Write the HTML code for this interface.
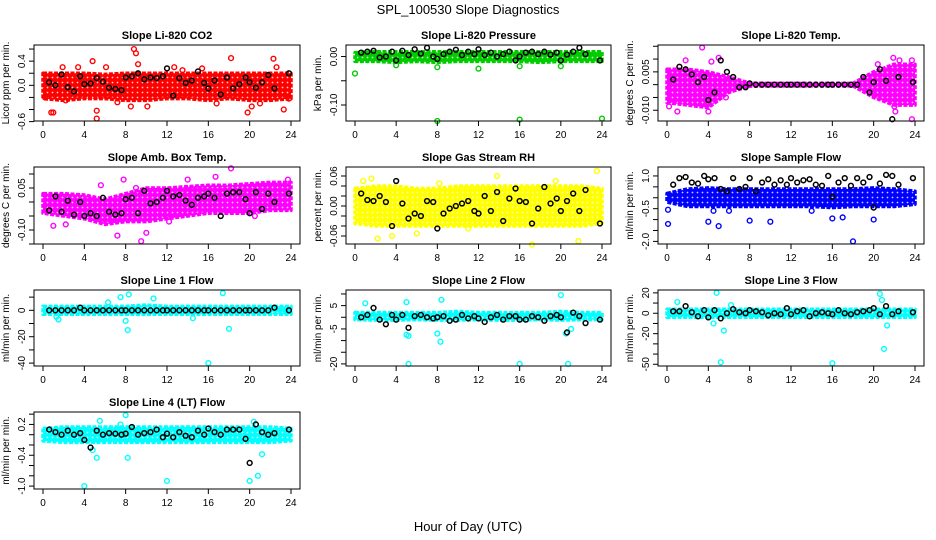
<!DOCTYPE html>
<html><head><meta charset="utf-8">
<style>
html,body{margin:0;padding:0;background:#fff;}
svg{display:block;font-family:"Liberation Sans",Arial,sans-serif;}
</style></head>
<body>
<svg id="chart" width="936" height="540" viewBox="0 0 936 540">
<defs id="defs"></defs>
<text x="468" y="14" text-anchor="middle" font-size="13">SPL_100530  Slope Diagnostics</text>
<text x="468" y="531" text-anchor="middle" font-size="13">Hour of Day (UTC)</text>
</svg>
<script>
// shared x data
const bandHours = [0,2,4,6,8,10,12,14,16,18,20,22,24];
const blackHours = [0.6,1.2,1.8,2.4,3.0,3.6,4.0,4.6,5.2,5.8,6.4,7.0,7.6,8.0,8.6,9.2,9.8,10.4,11.0,11.6,12.0,12.6,13.2,13.8,14.4,15.0,15.6,16.0,16.6,17.2,17.8,18.4,19.0,19.6,20.0,20.6,21.2,21.8,22.4,23.8];
const xTicks = [0,4,8,12,16,20,24];

// CO2
const co2Hi = [0.2,0.2,0.2,0.18,0.2,0.2,0.2,0.2,0.2,0.2,0.2,0.2,0.2];
const co2Lo = [-0.22,-0.25,-0.22,-0.22,-0.25,-0.25,-0.22,-0.22,-0.25,-0.22,-0.25,-0.25,-0.22];
const co2OutX = [0.2,1.0,0.8,4.8,5.2,5.2,8.8,9.0,9.2,18.2,22.3,19.8,23.3,2.2,7.2,8.5,10.1,12.7,16.8,20.2,21.0,6.1,3.4,1.9,13.5,15.4,22.6,23.8];
const co2OutY = [-0.2,-0.45,-0.45,0.4,-0.42,-0.55,0.6,0.53,0.35,0.45,0.44,-0.45,-0.4,-0.25,-0.28,-0.35,-0.35,0.3,-0.3,-0.35,-0.3,0.3,0.3,0.3,0.25,0.28,0.3,-0.22];
const co2Black = [0.05,0.0,0.18,-0.03,-0.1,0.15,0.02,0.03,0.12,0.06,-0.04,-0.06,-0.08,0.13,0.15,0.2,0.1,0.13,0.12,0.15,0.28,-0.17,0.12,0.04,0.08,0.23,0.04,-0.05,0.08,-0.15,0.13,-0.05,0.02,0.13,0.05,-0.04,0.05,0.17,-0.05,0.2];
// Pressure
const presHi = [0.008,0.01,0.01,0.01,0.01,0.01,0.01,0.01,0.01,0.01,0.01,0.01,0.01];
const presLo = [-0.01,-0.01,-0.012,-0.01,-0.012,-0.01,-0.01,-0.01,-0.01,-0.012,-0.01,-0.01,-0.01];
const presOutX = [0,4,8,8,12,16,16,20,24];
const presOutY = [-0.035,-0.018,-0.022,-0.133,-0.025,-0.13,-0.02,-0.02,-0.128];
const presBlack = [0.008,0.01,0.012,-0.002,0.0,0.01,-0.008,0.012,0.003,0.015,0.006,0.018,0.0,-0.005,0.005,0.01,0.014,0.003,0.01,0.005,0.015,0.003,0.008,0.0,0.005,0.01,-0.008,0.0,0.008,0.01,0.005,0.01,0.004,0.008,-0.008,0.004,0.01,0.018,0.005,-0.008];
// Li-820 Temp
const tempHi = [0.006,0.006,0.005,0.003,0.0006,0.0005,0.0005,0.0005,0.0005,0.0005,0.005,0.008,0.008];
const tempLo = [-0.007,-0.008,-0.009,-0.003,-0.0006,-0.0005,-0.0005,-0.0005,-0.0005,-0.0005,-0.005,-0.008,-0.008];
const tempOutX = [3.4,0.2,1.0,4.0,5.0,4.3,1.8,21.9,22.5,23.7,23.7,22.0,22.1,20.4,23.8,5.7];
const tempOutY = [0.0145,-0.0085,-0.0105,-0.0105,0.0105,0.009,0.0095,0.0105,0.0095,0.0095,-0.0135,-0.0085,-0.0105,0.008,0.007,-0.005];
const tempBlack = [0.002,0.007,0.006,0.004,0.001,0.003,-0.006,-0.003,0.0095,0.005,0.003,-0.001,-0.001,0.0005,0,0,0,0,0,0,0,0,0,0,0,0,0,0,0,0,0,0,0.003,-0.003,0.001,0.006,0.0015,-0.0135,0.003,0.001];
// Amb box temp
const ambHi = [0.03,0.03,0.025,0.01,0.03,0.05,0.05,0.055,0.06,0.06,0.065,0.07,0.07];
const ambLo = [-0.04,-0.05,-0.06,-0.08,-0.07,-0.07,-0.06,-0.05,-0.04,-0.04,-0.04,-0.03,-0.03];
const ambOutX = [1.0,5.6,9.0,10.0,7.2,9.5,12.2,14.0,16.7,18.2,23.7,2.2,20.5,7.8];
const ambOutY = [-0.085,0.06,0.05,-0.11,-0.12,-0.14,-0.07,0.08,0.09,0.12,0.08,-0.08,-0.05,0.08];
const ambBlack = [-0.03,0.02,-0.035,0.005,-0.045,0.0,-0.05,-0.04,-0.05,0.015,-0.035,-0.045,-0.04,0.01,0.015,-0.04,0.04,-0.005,0.0,0.015,0.04,0.02,0.025,0.005,-0.01,0.015,0.02,0.03,0.015,-0.05,0.03,0.035,0.035,0.01,-0.04,0.035,-0.025,0.03,0.0,0.03];
// Gas RH
const rhHi = [0.035,0.04,0.04,0.035,0.035,0.04,0.04,0.04,0.04,0.04,0.04,0.04,0.035];
const rhLo = [-0.035,-0.04,-0.04,-0.04,-0.04,-0.04,-0.04,-0.04,-0.04,-0.04,-0.04,-0.04,-0.035];
const rhOutX = [17.2,2.2,23.5,13.8,21.7,11.0,0.8,1.6,8.2,19.5,6.0,3.6];
const rhOutY = [-0.077,-0.065,0.07,0.06,-0.07,-0.045,0.05,0.055,0.045,0.05,-0.055,-0.06];
const rhBlack = [0.025,0.012,0.01,0.02,0.008,-0.04,0.05,0.005,-0.025,-0.015,-0.02,0.01,0.008,-0.045,-0.015,-0.005,0.0,0.005,0.01,-0.01,-0.015,0.02,-0.01,0.028,-0.03,0.015,0.035,0.01,0.008,-0.035,-0.005,0.038,0.005,0.015,-0.01,0.01,0.025,-0.01,0.032,-0.035];
// Sample flow
const sfHi = [0.2,0.4,0.45,0.4,0.4,0.4,0.4,0.4,0.4,0.4,0.45,0.4,0.3];
const sfLo = [-0.2,-0.4,-0.4,-0.4,-0.4,-0.4,-0.4,-0.4,-0.45,-0.4,-0.4,-0.4,-0.3];
const sfOutX = [0.1,0.1,5.0,4.0,10.0,8.0,18.0,17.0,16.0,20.0,4.5,6.0,14.0];
const sfOutY = [-1.2,-0.55,-1.3,-1.1,-1.1,-1.05,-2.0,-0.9,-0.95,-1.0,-0.6,-0.6,-0.6];
const sfBlack = [0.6,0.9,0.95,0.7,0.65,1.0,0.85,0.9,0.4,0.3,0.9,0.4,0.5,0.9,0.3,0.7,0.85,0.6,0.8,0.6,0.9,0.7,0.8,0.85,0.6,0.55,1.0,0.05,0.7,0.9,0.55,0.9,0.7,0.95,-0.45,0.65,1.05,1.0,0.6,0.9];
// Line 1
const l1Hi = [3,3,3,3,3,4,3,3,3,3,3,3,3];
const l1Lo = [-3,-3,-3,-3,-3,-3,-3,-3,-3,-3,-3,-3,-3];
const l1OutX = [16,8.2,18,8,1.5,14.5,7.5,8.3,17.4,10.7,6.3,1.3];
const l1OutY = [-40,-15,-14,-8,-7,-6,10,12,13,9,6,-5];
const l1Black = [0,0,0,0,0,2,0,0,0,0,0,0,0,0,0,0,0,0,0,0,0,0,0,0,0,0,0,0,0,0,0,0,0,0,0,0,0,0,2,0];
// Line 2
const l2Hi = [2,2,2,2,2,2.5,2,2,2,2,2.5,2,2];
const l2Lo = [-1,-1.2,-1.2,-1,-1.2,-1.2,-1,-1.2,-1.2,-1,-1.2,-1,-1];
const l2OutX = [5.2,8.3,8.0,5.0,5.2,1.0,5.0,8.4,16.0,20.5,20.7,21.0,20.0];
const l2OutY = [-20,-10.5,-7,-7.5,-8,6,6.5,7.5,-20,-7,-20,-5,9.5];
const l2Black = [0,1,4,-1,-3,1,-1,1,-4.5,0.5,1,0,-0.5,0,0.5,-1.5,-1,1,-0.5,0.5,-0.5,-2,0,1,-1,0.5,0.5,-1,-1,0.5,0,-1.5,0.5,1,0,-6.5,2,0.5,-2.5,-1];
// Line 3
const l3Hi = [4,4,4,4,4,4,4,4,4,4,4,4,4];
const l3Lo = [-4,-4,-4,-4,-4,-4,-4,-4,-4,-4,-4,-4,-4];
const l3OutX = [4.8,5.2,5.5,4.5,1.0,16.0,20.6,21.0,20.8,21.3,6.2];
const l3OutY = [20,-48,-17,-10,11,-49,19,-35,13,-12,8];
const l3Black = [2,2,7,1,-3,3,-4,3,-5,0,4,1,0,3,2,1,-2,0,-1,5,-1,2,3,-3,0,1,0,-1,3,0,-1,1,2,3,5,-1,7,-1,2,1];
// Line 4
const l4Hi = [0.12,0.15,0.15,0.15,0.15,0.15,0.15,0.15,0.15,0.15,0.15,0.15,0.12];
const l4Lo = [-0.12,-0.15,-0.15,-0.15,-0.15,-0.15,-0.15,-0.15,-0.15,-0.15,-0.15,-0.15,-0.12];
const l4OutX = [4.0,12.0,20.0,20.8,8.0,5.5,7.5,8.2,5.2,4.8,21.2,20.4];
const l4OutY = [-1.0,-0.9,-0.9,-0.8,0.38,0.27,0.2,-0.45,-0.45,-0.3,-0.38,0.25];
const l4Black = [0.1,0.05,0.0,0.08,0.0,0.03,-0.1,-0.25,0.08,0.0,0.03,0.02,0.0,0.02,0.15,0.0,0.03,0.05,0.1,-0.05,0.02,-0.05,0.05,-0.02,-0.05,0.08,0.0,0.12,0.05,0.0,0.1,0.1,0.1,-0.08,-0.55,0.2,0.05,0.0,0.03,0.1];

const NS = "http://www.w3.org/2000/svg";
const svg = document.getElementById('chart');
const defs = document.getElementById('defs');
const cols = [[34,300],[346,611],[658,924]];
const rows = [[45,121],[167,244],[290,366],[412,489]];

const panels = [
 {key:'co2',title:'Slope Li-820 CO2',ylab:'Licor ppm per min.',c:0,r:0,col:'#ff0000',ymin:-0.59,ymax:0.667,ticks:[-0.6,-0.4,-0.2,0,0.2,0.4,0.6],labels:[[-0.6,'-0.6'],[0,'0.0'],[0.4,'0.4']],hi:co2Hi,lo:co2Lo,ox:co2OutX,oy:co2OutY,b:co2Black},
 {key:'pressure',title:'Slope Li-820 Pressure',ylab:'kPa per min.',c:1,r:0,col:'#00cc00',ymin:-0.133,ymax:0.0238,ticks:[-0.1,-0.05,0],labels:[[-0.1,'-0.10'],[0,'0.00']],hi:presHi,lo:presLo,ox:presOutX,oy:presOutY,b:presBlack},
 {key:'li820-temp',title:'Slope Li-820 Temp.',ylab:'degrees C per min.',c:2,r:0,col:'#ff00ff',ymin:-0.0142,ymax:0.0155,ticks:[-0.01,-0.005,0,0.005,0.01,0.015],labels:[[-0.01,'-0.010'],[0.005,'0.005']],hi:tempHi,lo:tempLo,ox:tempOutX,oy:tempOutY,b:tempBlack},
 {key:'amb-box-temp',title:'Slope Amb. Box Temp.',ylab:'degrees C per min.',c:0,r:1,col:'#ff00ff',ymin:-0.15,ymax:0.125,ticks:[-0.15,-0.1,-0.05,0,0.05,0.1],labels:[[-0.1,'-0.10'],[0.05,'0.05']],hi:ambHi,lo:ambLo,ox:ambOutX,oy:ambOutY,b:ambBlack},
 {key:'gas-rh',title:'Slope Gas Stream RH',ylab:'percent per min.',c:1,r:1,col:'#ffff00',ymin:-0.076,ymax:0.078,ticks:[-0.06,-0.04,-0.02,0,0.02,0.04,0.06],labels:[[-0.06,'-0.06'],[0,'0.00'],[0.06,'0.06']],hi:rhHi,lo:rhLo,ox:rhOutX,oy:rhOutY,b:rhBlack},
 {key:'sample-flow',title:'Slope Sample Flow',ylab:'ml/min per min.',c:2,r:1,col:'#0000ff',ymin:-2.12,ymax:1.41,ticks:[-2,-1.5,-1,-0.5,0,0.5,1],labels:[[-2,'-2.0'],[-0.5,'-0.5'],[1,'1.0']],hi:sfHi,lo:sfLo,ox:sfOutX,oy:sfOutY,b:sfBlack},
 {key:'line1-flow',title:'Slope Line 1 Flow',ylab:'ml/min per min.',c:0,r:2,col:'#00ffff',ymin:-42.2,ymax:15.4,ticks:[-40,-30,-20,-10,0,10],labels:[[-40,'-40'],[-20,'-20'],[0,'0']],hi:l1Hi,lo:l1Lo,ox:l1OutX,oy:l1OutY,b:l1Black},
 {key:'line2-flow',title:'Slope Line 2 Flow',ylab:'ml/min per min.',c:1,r:2,col:'#00ffff',ymin:-20.9,ymax:11.7,ticks:[-20,-15,-10,-5,0,5,10],labels:[[-20,'-20'],[-5,'-5'],[5,'5']],hi:l2Hi,lo:l2Lo,ox:l2OutX,oy:l2OutY,b:l2Black},
 {key:'line3-flow',title:'Slope Line 3 Flow',ylab:'ml/min per min.',c:2,r:2,col:'#00ffff',ymin:-51.7,ymax:22.8,ticks:[-50,-40,-30,-20,-10,0,10,20],labels:[[-50,'-50'],[-20,'-20'],[0,'0'],[20,'20']],hi:l3Hi,lo:l3Lo,ox:l3OutX,oy:l3OutY,b:l3Black},
 {key:'line4-flow',title:'Slope Line 4 (LT) Flow',ylab:'ml/min per min.',c:0,r:3,col:'#00ffff',ymin:-1.057,ymax:0.442,ticks:[-1,-0.8,-0.6,-0.4,-0.2,0,0.2,0.4],labels:[[-1,'-1.0'],[-0.4,'-0.4'],[0.2,'0.2']],hi:l4Hi,lo:l4Lo,ox:l4OutX,oy:l4OutY,b:l4Black}
];

function el(tag, attrs, parent){
  const e = document.createElementNS(NS, tag);
  for (const k in attrs) e.setAttribute(k, attrs[k]);
  (parent||svg).appendChild(e);
  return e;
}

panels.forEach(p => {
  const [x0,x1] = cols[p.c], [y0,y1] = rows[p.r];
  const dx0 = x0 + 9, dx1 = x1 - 9;
  const xs = v => dx0 + (v/24)*(dx1-dx0);
  const ys = v => y1 - (v - p.ymin)/(p.ymax - p.ymin)*(y1-y0);
  // texture pattern for dense cloud
  const pid = 'pat-' + p.key;
  const pat = el('pattern', {id:pid, width:'5', height:'5', patternUnits:'userSpaceOnUse'}, defs);
  el('rect', {x:0, y:0, width:5, height:5, fill:p.col}, pat);
  el('circle', {cx:2.5, cy:2.5, r:0.9, fill:'#ffffff', 'fill-opacity':'0.8'}, pat);

  const g = el('g', {});
  
  
  const t = el('text', {x:(x0+x1)/2, y:y0-6, 'text-anchor':'middle','font-size':'11','font-weight':'bold'}, g);
  t.textContent = p.title;
  
  
  const cx = x0 - 25, cy = (y0+y1)/2;
  const yl = el('text', {x:cx, y:cy, 'text-anchor':'middle','font-size':'10',transform:`rotate(-90 ${cx} ${cy})`}, g);
  yl.textContent = p.ylab;
  
  
  let d = '';
  bandHours.forEach((h,i)=>{ d += (i?'L':'M') + xs(h).toFixed(1)+','+ys(p.hi[i]).toFixed(1); });
  for (let i=bandHours.length-1;i>=0;i--) d += 'L'+xs(bandHours[i]).toFixed(1)+','+ys(p.lo[i]).toFixed(1);
  const band = el('path', {d:d+'Z', fill:`url(#${pid})`, stroke:p.col, 'stroke-width':'3.5','stroke-linejoin':'round','stroke-dasharray':'4 1.5'}, g);
  
  
  p.ox.forEach((h,i)=>{
    const c = el('circle', {cx:xs(h), cy:ys(p.oy[i]), r:'2.4', fill:'none', stroke:p.col, 'stroke-width':'1.4'}, g);
    
    
  });
  blackHours.forEach((h,i)=>{
    const c = el('circle', {cx:xs(h), cy:ys(p.b[i]), r:'2.4', fill:'none', stroke:'#000', 'stroke-width':'1.5'}, g);
    
    
  });
  const box = el('rect', {x:x0, y:y0, width:x1-x0, height:y1-y0, fill:'none', stroke:'#000','stroke-width':'1'}, g);
  
  
  el('line', {x1:xs(0), x2:xs(24), y1:y1, y2:y1, stroke:'#000'}, g);
  xTicks.forEach(v=>{
    el('line', {x1:xs(v), x2:xs(v), y1:y1, y2:y1+5, stroke:'#000'}, g);
    const tl = el('text', {x:xs(v), y:y1+17, 'text-anchor':'middle','font-size':'10'}, g);
    tl.textContent = v;
    
    
  });
  el('line', {x1:x0, x2:x0, y1:ys(p.ticks[0]), y2:ys(p.ticks[p.ticks.length-1]), stroke:'#000'}, g);
  p.ticks.forEach(v=>{ el('line', {x1:x0-5, x2:x0, y1:ys(v), y2:ys(v), stroke:'#000'}, g); });
  p.labels.forEach(([v,s])=>{
    const lx = x0 - 9, ly = ys(v);
    const tl = el('text', {x:lx, y:ly, 'text-anchor':'middle','font-size':'10',transform:`rotate(-90 ${lx} ${ly})`}, g);
    tl.textContent = s;
    
    
  });
});
</script>
</body></html>
